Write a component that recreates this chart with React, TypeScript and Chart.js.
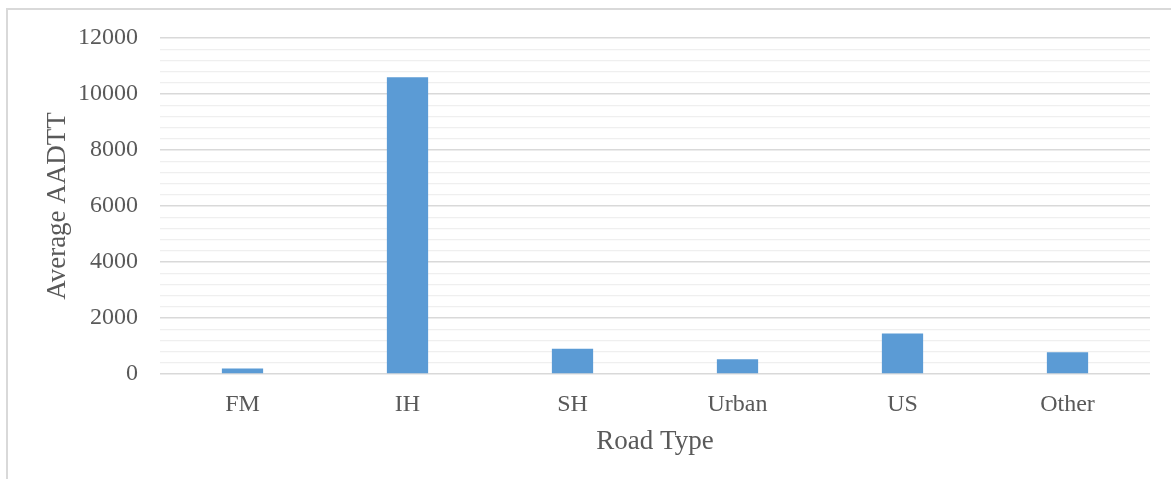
import React, { useEffect, useRef } from "react";
import { Chart, registerables } from "chart.js";

Chart.register(...registerables);

const categories = ["FM", "IH", "SH", "Urban", "US", "Other"];
const averageAadtt = [200, 10600, 900, 530, 1450, 780];
const yMin = 0;
const yMax = 12000;
const yMinorStep = 400;
const yMajorStep = 2000;

export default function App() {
  const canvasRef = useRef<HTMLCanvasElement | null>(null);

  useEffect(() => {
    const canvas = canvasRef.current;
    if (!canvas) return;
    const textColor = "#595959";
    const chart = new Chart(canvas, {
      type: "bar",
      data: {
        labels: categories,
        datasets: [
          {
            label: "Average AADTT",
            data: averageAadtt,
            backgroundColor: "#5B9BD5",
            borderWidth: 0,
            categoryPercentage: 1,
            barPercentage: 0.25,
          },
        ],
      },
      options: {
        responsive: false,
        animation: false,
        layout: { padding: { left: 0, top: 38, right: 21, bottom: 0 } },
        plugins: {
          legend: { display: false },
          tooltip: { enabled: false },
        },
        scales: {
          x: {
            grid: { display: false, drawTicks: false },
            border: { display: false },
            ticks: {
              color: textColor,
              font: { family: "'Liberation Serif', serif", size: 24 },
              padding: 16,
            },
            title: {
              display: true,
              text: "Road Type",
              color: textColor,
              font: { family: "'Liberation Serif', serif", size: 27 },
              padding: { top: 0, bottom: 21 },
            },
            afterFit: (scale: any) => {
              scale.height = 105;
            },
          },
          y: {
            min: yMin,
            max: yMax,
            border: { display: false },
            grid: {
              drawTicks: false,
              color: (ctx: any) =>
                ctx.tick && ctx.tick.value % yMajorStep === 0 ? "#d9d9d9" : "#efefef",
              lineWidth: (ctx: any) =>
                ctx.tick && ctx.tick.value % yMajorStep === 0 ? 1.5 : 1.2,
            },
            ticks: {
              stepSize: yMinorStep,
              autoSkip: false,
              color: textColor,
              font: { family: "'Liberation Serif', serif", size: 24 },
              padding: 22,
              callback: (value: any) =>
                Number(value) % yMajorStep === 0 ? String(value) : "",
            },
            title: {
              display: true,
              text: "Average AADTT",
              color: textColor,
              font: { family: "'Liberation Serif', serif", size: 27 },
              padding: { top: 42, bottom: 0 },
            },
            afterFit: (scale: any) => {
              scale.width = 160;
            },
          },
        },
      },
    });
    return () => chart.destroy();
  }, []);

  return (
    <div style={{ position: "absolute", left: 0, top: 0, width: 1171, height: 479, background: "#fff", overflow: "hidden" }}>
      <canvas ref={canvasRef} width={1171} height={479} style={{ position: "absolute", left: 0, top: 0 }} />
      <div
        style={{
          position: "absolute",
          left: 6,
          top: 8,
          width: 1165,
          height: 471,
          borderLeft: "2px solid #d9d9d9",
          borderTop: "2px solid #d9d9d9",
          boxSizing: "border-box",
          pointerEvents: "none",
        }}
      />
    </div>
  );
}
